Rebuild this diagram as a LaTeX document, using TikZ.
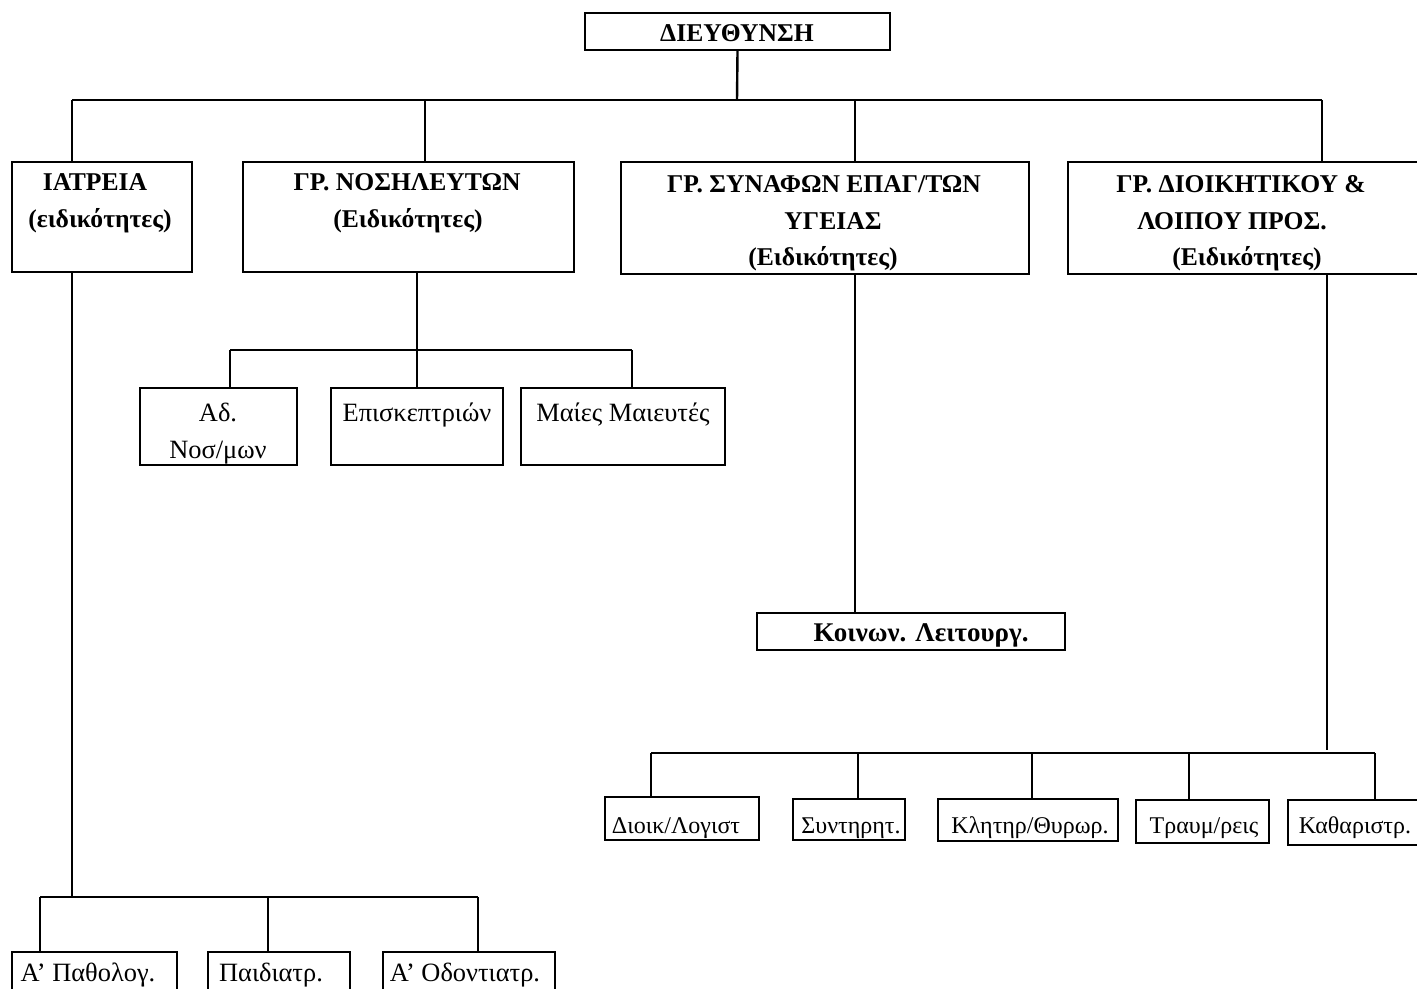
\documentclass[tikz,border=0pt]{standalone}
\usepackage{fontspec}
\setmainfont{Liberation Serif}
\begin{document}
% one unit = half a point; y grows downwards
\newcommand\orgbox[5]{%
  \pgfmathsetmacro\orgW{(#4-#2)*0.5}%
  \pgfmathsetmacro\orgH{(#5-#3)*0.5}%
  \node[box, minimum width=\orgW pt, minimum height=\orgH pt] (#1) at ({(#2+#4)/2},{(#3+#5)/2}) {};}
\begin{tikzpicture}[x=0.5pt,y=-0.5pt,
  box/.style={draw, line width=1.1pt, inner sep=0pt, fill=white},
  link/.style={line width=1.2pt},
  head/.style={font=\bfseries\fontsize{12.8}{14}\selectfont, inner sep=0pt, anchor=base},
  lab/.style={font=\fontsize{13.2}{15}\selectfont, inner sep=0pt, anchor=base},
  small/.style={font=\fontsize{12}{14}\selectfont, inner sep=0pt, anchor=base}]
\useasboundingbox (0,0) rectangle (1417,989);
\clip (0,0) rectangle (1417,989);

% ---- boxes ----
\orgbox{dir}{585}{13}{890}{50}
\orgbox{iatr}{12}{162}{192}{272}
\orgbox{nos}{243}{162}{574}{272}
\orgbox{syn}{621}{162}{1029}{274}
\orgbox{dioik}{1068}{162}{1425}{274}

\orgbox{adn}{140}{388}{297}{465}
\orgbox{epis}{331}{388}{503}{465}
\orgbox{maies}{521}{388}{725}{465}

\orgbox{koin}{757}{613}{1065}{650}

\orgbox{log}{605}{797}{759}{840}
\orgbox{synt}{793}{799}{905}{840}
\orgbox{klit}{938}{799}{1118}{841}
\orgbox{trav}{1136}{800}{1269}{843}
\orgbox{kath}{1288}{800}{1425}{845}

\orgbox{path}{12}{952}{177}{1000}
\orgbox{paid}{208}{952}{350}{1000}
\orgbox{odon}{383}{952}{555}{1000}

% ---- texts ----
\node[head] (dir-t) at (737,42) {ΔΙΕΥΘΥΝΣΗ};
\node[head] (iatr-t1) at (95,191) {ΙΑΤΡΕΙΑ};
\node[head] (iatr-t2) at (100,228) {(ειδικότητες)};
\node[head] (nos-t1) at (407,191) {ΓΡ. ΝΟΣΗΛΕΥΤΩΝ};
\node[head] (nos-t2) at (408,228) {(Ειδικότητες)};
\node[head] (syn-t1) at (824,193) {ΓΡ. ΣΥΝΑΦΩΝ ΕΠΑΓ/ΤΩΝ};
\node[head] (syn-t2) at (833,230) {ΥΓΕΙΑΣ};
\node[head] (syn-t3) at (823,266) {(Ειδικότητες)};
\node[head] (dioik-t1) at (1241,193) {ΓΡ. ΔΙΟΙΚΗΤΙΚΟΥ \&};
\node[head] (dioik-t2) at (1232,230) {ΛΟΙΠΟΥ ΠΡΟΣ.};
\node[head] (dioik-t3) at (1247,266) {(Ειδικότητες)};

\node[lab] (adn-t1) at (218,421) {Αδ.};
\node[lab] (adn-t2) at (218,458) {Νοσ/μων};
\node[lab] (epis-t) at (417,421) {Επισκεπτριών};
\node[lab] (maies-t) at (623,421) {Μαίες Μαιευτές};

\node[head, font=\bfseries\fontsize{13.5}{15}\selectfont] (koin-t) at (921,641) {Κοινων. Λειτουργ.};

\node[small] (log-t) at (676,833) {Διοικ/Λογιστ};
\node[small] (synt-t) at (851,833) {Συντηρητ.};
\node[small] (klit-t) at (1030,833) {Κλητηρ/Θυρωρ.};
\node[small] (trav-t) at (1204,833) {Τραυμ/ρεις};
\node[small] (kath-t) at (1355,833) {Καθαριστρ.};

\node[lab] (path-t) at (88,981) {Α' Παθολογ.};
\node[lab] (paid-t) at (271,981) {Παιδιατρ.};
\node[lab] (odon-t) at (465,981) {Α' Οδοντιατρ.};

% ---- connectors ----
% top level
\coordinate (top-mid) at (737,100);
\coordinate (top-l) at (72,100);
\coordinate (top-n) at (425,100);
\coordinate (top-s) at (855,100);
\coordinate (top-r) at (1322,100);
\draw[link] (dir.south) -- (top-mid);
\draw[link] (top-l) -- (top-r);
\draw[link] (top-l) -- (top-l |- iatr.north);
\draw[link] (top-n) -- (top-n |- nos.north);
\draw[link] (top-s) -- (top-s |- syn.north);
\draw[link] (top-r) -- (top-r |- dioik.north);

% nursing group
\coordinate (nos-drop) at (417,350);
\coordinate (nos-l) at (230,350);
\coordinate (nos-r) at (632,350);
\draw[link] (nos-drop |- nos.south) -- (nos-drop);
\draw[link] (nos-l) -- (nos-r);
\draw[link] (nos-l) -- (nos-l |- adn.north);
\draw[link] (nos-drop) -- (nos-drop |- epis.north);
\draw[link] (nos-r) -- (nos-r |- maies.north);

% allied health group
\coordinate (syn-drop) at (855,300);
\draw[link] (syn-drop |- syn.south) -- (syn-drop |- koin.north);

% administrative group
\coordinate (dioik-drop) at (1327,750);
\coordinate (adm-l) at (651,753);
\coordinate (adm-r) at (1375,753);
\coordinate (adm-2) at (858,753);
\coordinate (adm-3) at (1032,753);
\coordinate (adm-4) at (1189,753);
\draw[link] (dioik-drop |- dioik.south) -- (dioik-drop);
\draw[link] (adm-l) -- (adm-r);
\draw[link] (adm-l) -- (adm-l |- log.north);
\draw[link] (adm-2) -- (adm-2 |- synt.north);
\draw[link] (adm-3) -- (adm-3 |- klit.north);
\draw[link] (adm-4) -- (adm-4 |- trav.north);
\draw[link] (adm-r) -- (adm-r |- kath.north);

% clinics
\coordinate (iatr-drop) at (72,897);
\coordinate (cl-l) at (40,897);
\coordinate (cl-m) at (268,897);
\coordinate (cl-r) at (478,897);
\draw[link] (iatr-drop |- iatr.south) -- (iatr-drop);
\draw[link] (cl-l) -- (cl-r);
\draw[link] (cl-l) -- (cl-l |- path.north);
\draw[link] (cl-m) -- (cl-m |- paid.north);
\draw[link] (cl-r) -- (cl-r |- odon.north);
\end{tikzpicture}
\end{document}
